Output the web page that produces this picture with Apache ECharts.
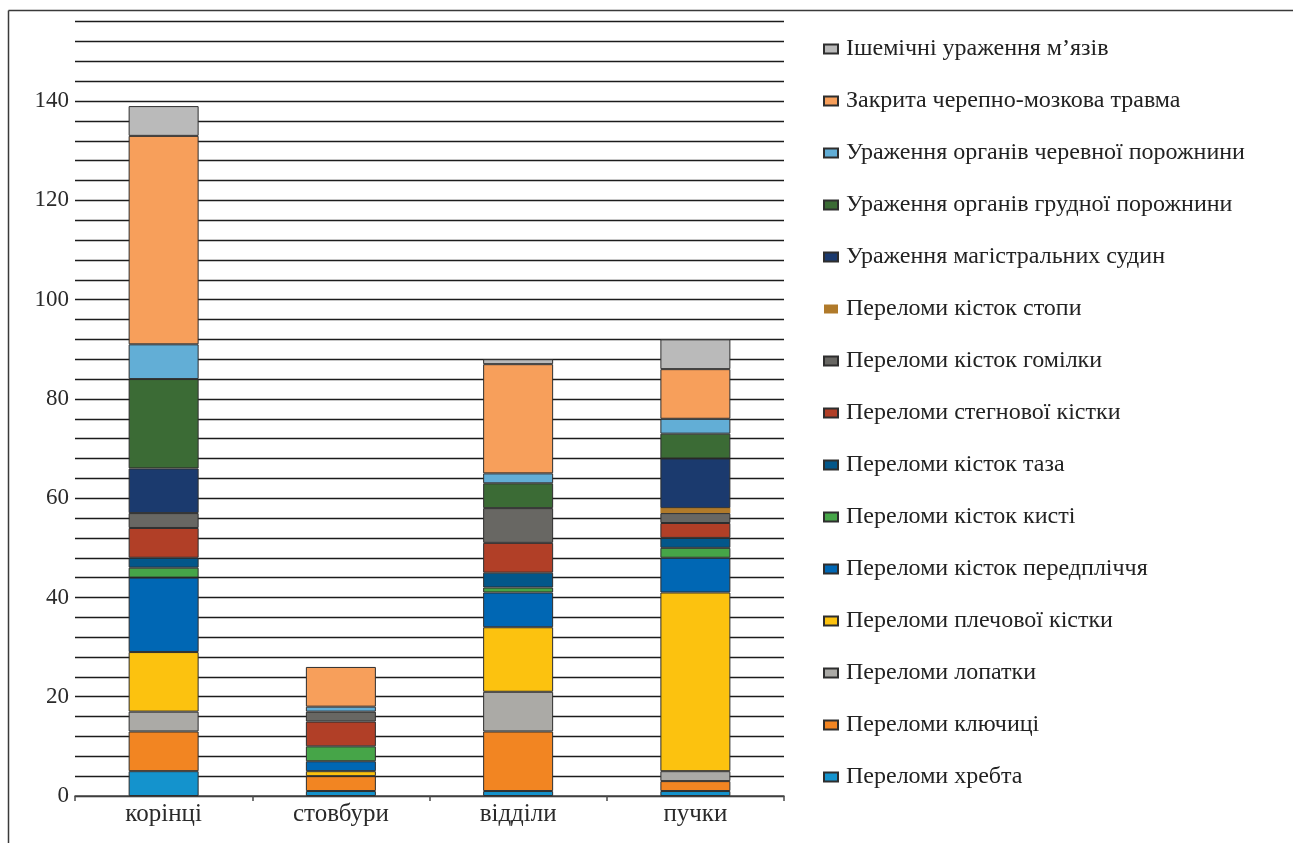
<!DOCTYPE html>
<html>
<head>
<meta charset="utf-8">
<script src="https://cdn.jsdelivr.net/npm/echarts@6/dist/echarts.min.js"></script>
<style>
  html, body { margin: 0; padding: 0; background: #fff; }
  #chart { width: 1293px; height: 843px; }
</style>
</head>
<body>
<div id="chart"></div>
<script>
// Categories along the x axis
const categories = ['корінці', 'стовбури', 'відділи', 'пучки'];

// Stacked series, bottom to top
const seriesNames = [
  'Переломи хребта',
  'Переломи ключиці',
  'Переломи лопатки',
  'Переломи плечової кістки',
  'Переломи кісток передпліччя',
  'Переломи кісток кисті',
  'Переломи кісток таза',
  'Переломи стегнової кістки',
  'Переломи кісток гомілки',
  'Переломи кісток стопи',
  'Ураження магістральних судин',
  'Ураження органів грудної порожнини',
  'Ураження органів черевної порожнини',
  'Закрита черепно-мозкова травма',
  'Ішемічні ураження м’язів'
];

const spine      = [5, 1, 1, 1];
const clavicle   = [8, 3, 12, 2];
const scapula    = [4, 0, 8, 2];
const humerus    = [12, 1, 13, 36];
const forearm    = [15, 2, 7, 7];
const hand       = [2, 3, 1, 2];
const pelvis     = [2, 0, 3, 2];
const femur      = [6, 5, 6, 3];
const shin       = [3, 2, 7, 2];
const foot       = [0, 0, 0, 1];
const vessels    = [9, 0, 0, 10];
const chest      = [18, 0, 5, 5];
const abdomen    = [7, 1, 2, 3];
const headInjury = [42, 8, 22, 10];
const ischemia   = [6, 0, 1, 6];

const seriesValues = [spine, clavicle, scapula, humerus, forearm, hand, pelvis,
  femur, shin, foot, vessels, chest, abdomen, headInjury, ischemia];

const seriesColors = ['#1493cd', '#f28522', '#abaaa6', '#fcc20f', '#0067b4',
  '#46a548', '#03578a', '#b13f27', '#686763', '#b07a2a', '#1b3a6e',
  '#3b6b35', '#62aed6', '#f79f5b', '#bababa'];

// Value axis: gridline every 4, labels every 20
const yMax = 156;
const yStep = 4;
const yLabelStep = 20;

const serif = '"Liberation Serif", "DejaVu Serif", serif';

const chart = echarts.init(document.getElementById('chart'));

const series = seriesNames.map((name, i) => ({
  name: name,
  type: 'bar',
  stack: 'total',
  barWidth: 70,
  data: seriesValues[i].map(v => (v === 0 ? null : v)),
  itemStyle: {
    color: seriesColors[i],
    borderColor: i === 9 ? seriesColors[i] : '#2e2e2e',
    borderWidth: i === 9 ? 0 : 1
  },
  emphasis: { disabled: true }
}));

chart.setOption({
  animation: false,
  backgroundColor: '#ffffff',
  grid: { left: 75, right: 509, top: 21.7, bottom: 47, containLabel: false },
  xAxis: {
    type: 'category',
    data: categories,
    axisLine: { lineStyle: { color: '#4a4a4a', width: 1.5 } },
    axisTick: { show: true, length: 5, lineStyle: { color: '#4a4a4a', width: 1.5 } },
    axisLabel: { color: '#2a2a2a', fontFamily: serif, fontSize: 25, margin: 6 },
    splitLine: { show: false }
  },
  yAxis: {
    type: 'value',
    min: 0,
    max: yMax,
    interval: yStep,
    axisLine: { show: false },
    axisTick: { show: false },
    axisLabel: {
      color: '#2a2a2a',
      fontFamily: serif,
      fontSize: 23,
      margin: 6,
      formatter: v => (v % yLabelStep === 0 ? String(v) : '')
    },
    splitLine: { show: true, lineStyle: { color: '#1c1c1c', width: 1.3 } }
  },
  legend: {
    orient: 'vertical',
    left: 823,
    top: 35,
    padding: 0,
    itemWidth: 14,
    itemHeight: 9,
    itemGap: 24,
    icon: 'rect',
    data: seriesNames.slice().reverse(),
    textStyle: { color: '#222', fontFamily: serif, fontSize: 24, lineHeight: 28, padding: [0, 0, 0, 3] },
    selectedMode: false
  },
  graphic: [
    { type: 'line', silent: true, shape: { x1: 8.5, y1: 10.5, x2: 1293, y2: 10.5 },
      style: { stroke: '#3a3a3a', lineWidth: 1.5 } },
    { type: 'line', silent: true, shape: { x1: 8.5, y1: 10.5, x2: 8.5, y2: 843 },
      style: { stroke: '#3a3a3a', lineWidth: 1.5 } }
  ],
  series: series
});
</script>
</body>
</html>
